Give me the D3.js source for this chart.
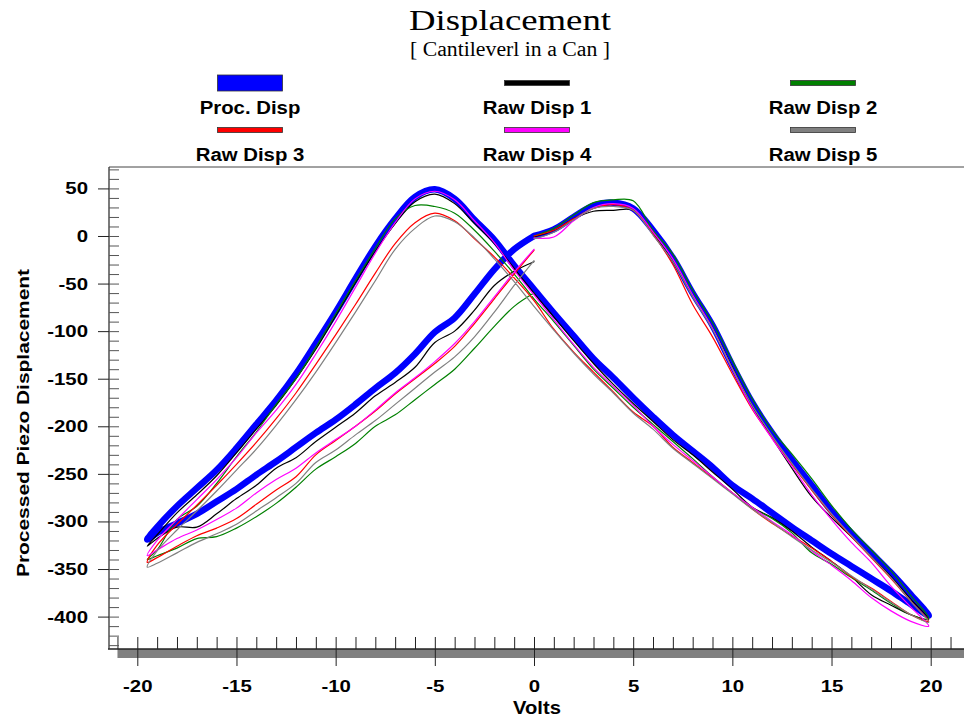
<!DOCTYPE html>
<html>
<head>
<meta charset="utf-8">
<script src="https://cdn.jsdelivr.net/npm/d3@7"></script>
<style>
  body { margin: 0; background: #fff; }
  svg text { font-family: "Liberation Sans", Arial, Helvetica, sans-serif; font-weight: bold; fill: #000; }
  svg text.serif { font-family: "Liberation Serif", "Times New Roman", serif; font-weight: normal; }
</style>
</head>
<body>
<svg id="chart" width="964" height="719"></svg>
<script>

// voltage sweep: 0 -> 20 -> -19.5 -> 0
var volts = [
  0, 1, 2, 3, 4, 5, 6, 7, 8, 9, 10, 11, 12, 13, 14, 15, 16, 17, 18, 19, 19.9,
  19, 18, 17, 16, 15, 14, 13, 12, 11, 10, 9, 8, 7, 6, 5, 4, 3, 2, 1, 0,
  -1, -2, -3, -4, -5, -6, -7, -8, -9, -10, -11, -12, -13, -14, -15, -16, -17, -18, -19, -19.5,
  -19, -18, -17, -16, -15, -14, -13, -12, -11, -10, -9, -8, -7, -6, -5, -4, -3, -2, -1, 0
];

var procDisp = [
  0, 7, 20, 32, 35, 29, 6, -23, -60, -94, -136, -175, -207, -235, -262, -289, -312, -333, -354, -377, -399,
  -387, -373, -360, -347, -334, -320, -306, -291, -276, -262, -243, -226, -209, -190, -170, -149, -129, -105, -81, -56,
  -31, -4, 17, 39, 49, 41, 18, -11, -45, -80, -113, -145, -173, -198, -223, -246, -265, -284, -306, -319,
  -312, -302, -292, -279, -266, -251, -237, -222, -207, -193, -177, -160, -144, -124, -101, -86, -61, -35, -14, 0
];

var rawDisp1 = [
  -1, 6, 18, 26, 27, 27, 3, -27, -63, -97, -138, -178, -212, -244, -274, -296, -316, -337, -358, -382, -403,
  -398, -388, -377, -358, -342, -327, -310, -296, -285, -266, -248, -230, -214, -195, -176, -156, -134, -110, -85, -60,
  -34, -8, 13, 34, 44, 36, 13, -16, -49, -84, -119, -150, -178, -203, -228, -252, -272, -291, -314, -326,
  -318, -306, -306, -292, -276, -262, -244, -233, -216, -201, -186, -168, -154, -138, -112, -100, -78, -52, -37, -27
];

var rawDisp2 = [
  0, 8, 22, 35, 38, 37, 6, -19, -57, -91, -131, -171, -204, -229, -255, -283, -308, -330, -352, -378, -402,
  -398, -386, -372, -359, -345, -333, -312, -297, -286, -270, -253, -234, -216, -198, -180, -160, -140, -115, -90, -66,
  -40, -16, 6, 24, 31, 32, 18, -13, -47, -82, -117, -150, -177, -206, -232, -260, -284, -298, -330, -340,
  -336, -328, -318, -316, -307, -295, -281, -264, -245, -232, -218, -200, -188, -172, -156, -140, -118, -95, -74, -60
];

var rawDisp3 = [
  0, 6, 18, 29, 33, 27, 2, -30, -72, -106, -145, -182, -212, -240, -267, -293, -316, -338, -360, -384, -405,
  -398, -384, -370, -358, -342, -328, -315, -302, -287, -270, -254, -238, -222, -200, -185, -164, -143, -122, -98, -68,
  -44, -22, -3, 16, 24, 14, -8, -39, -72, -104, -135, -165, -192, -217, -240, -262, -283, -303, -325, -343,
  -338, -326, -315, -307, -297, -282, -267, -253, -230, -215, -200, -184, -166, -150, -134, -116, -92, -66, -40, -15
];

var rawDisp4 = [
  -2, -1, 16, 30, 34, 29, 4, -24, -62, -97, -140, -181, -213, -242, -272, -298, -322, -343, -368, -390, -410,
  -405, -394, -380, -362, -346, -331, -314, -300, -285, -270, -253, -236, -219, -200, -178, -158, -138, -114, -88, -62,
  -36, -7, 16, 38, 47, 39, 14, -18, -54, -90, -124, -156, -183, -207, -233, -256, -277, -298, -320, -336,
  -330, -318, -309, -298, -286, -270, -256, -244, -228, -214, -200, -183, -165, -149, -132, -113, -90, -64, -38, -14
];

var rawDisp5 = [
  -3, 4, 17, 29, 31, 27, 1, -27, -64, -98, -139, -178, -210, -239, -266, -292, -315, -337, -359, -384, -406,
  -398, -385, -371, -357, -343, -330, -316, -301, -287, -271, -255, -239, -223, -203, -186, -165, -145, -123, -99, -74,
  -48, -24, -2, 15, 21, 8, -14, -47, -80, -112, -143, -172, -199, -224, -246, -268, -289, -309, -331, -348,
  -344, -333, -322, -313, -303, -289, -275, -260, -238, -225, -209, -194, -177, -160, -143, -127, -106, -80, -52, -26
];

var seriesNames = ['Proc. Disp', 'Raw Disp 1', 'Raw Disp 2', 'Raw Disp 3', 'Raw Disp 4', 'Raw Disp 5'];
var seriesColours = ['#0000ff', '#000000', '#008000', '#ff0000', '#ff00ff', '#808080'];
var xTickValues = [-20, -15, -10, -5, 0, 5, 10, 15, 20];
var yTickValues = [50, 0, -50, -100, -150, -200, -250, -300, -350, -400];

var svg = d3.select('#chart');

var xScale = d3.scaleLinear().domain([-20, 20]).range([137.3, 930.7]);
var yScale = d3.scaleLinear().domain([-433, 72.5]).range([648, 167]);

function stretch(sel, k) {
  sel.each(function () {
    var w = this.getComputedTextLength();
    d3.select(this).attr('textLength', w * k).attr('lengthAdjust', 'spacingAndGlyphs');
  });
}

// title
svg.append('text').attr('class', 'serif')
  .attr('x', 510).attr('y', 30)
  .attr('text-anchor', 'middle')
  .style('font-size', '30px')
  .attr('textLength', 202).attr('lengthAdjust', 'spacingAndGlyphs')
  .text('Displacement');

svg.append('text').attr('class', 'serif')
  .attr('x', 510).attr('y', 56)
  .attr('text-anchor', 'middle')
  .style('font-size', '20px')
  .attr('textLength', 200).attr('lengthAdjust', 'spacingAndGlyphs')
  .text('[ Cantileverl in a Can ]');

// legend
var legendCols = [250, 537, 823];
var legend = svg.append('g').selectAll('g')
  .data(seriesNames)
  .enter().append('g')
  .attr('transform', function (d, i) {
    return 'translate(' + legendCols[i % 3] + ',' + (i < 3 ? 83 : 130) + ')';
  });

legend.append('rect')
  .attr('x', -32.5)
  .attr('y', function (d, i) { return i === 0 ? -8 : -2.5; })
  .attr('width', 65)
  .attr('height', function (d, i) { return i === 0 ? 16 : 5; })
  .style('fill', function (d, i) { return seriesColours[i]; })
  .style('stroke', '#333')
  .style('stroke-width', 0.8);

legend.append('text')
  .attr('y', 31)
  .attr('text-anchor', 'middle')
  .style('font-size', '18px')
  .text(function (d) { return d; })
  .call(stretch, 1.13);

// x axis band
svg.append('rect')
  .attr('x', xScale(-21)).attr('y', 649)
  .attr('width', 964 - xScale(-21)).attr('height', 9)
  .style('fill', '#808080');

svg.append('line')
  .attr('x1', 108).attr('x2', 964).attr('y1', 649).attr('y2', 649)
  .style('stroke', '#222').style('stroke-width', 1.3);

svg.append('line')
  .attr('x1', 109).attr('x2', 964).attr('y1', 167).attr('y2', 167)
  .style('stroke', '#444').style('stroke-width', 1);

svg.append('line')
  .attr('x1', 109).attr('x2', 109).attr('y1', 167).attr('y2', 649)
  .style('stroke', '#333').style('stroke-width', 1.3);

// x ticks
var xMinor = svg.append('g').attr('transform', 'translate(0,649)')
  .call(d3.axisTop(xScale).tickValues(d3.range(-21, 22, 1)).tickSize(12).tickFormat(''));

var xMajor = svg.append('g').attr('transform', 'translate(0,649)')
  .call(d3.axisBottom(xScale).tickValues(xTickValues).tickSize(17).tickPadding(14)
    .tickFormat(function (d) { return String(d); }));

xMajor.selectAll('text').style('font-size', '17px').call(stretch, 1.2);

// y ticks
var yMinor = svg.append('g').attr('transform', 'translate(109,0)')
  .call(d3.axisRight(yScale).tickValues(d3.range(-430, 80, 10)).tickSize(10).tickFormat(''));

var yMajor = svg.append('g').attr('transform', 'translate(109,0)')
  .call(d3.axisLeft(yScale).tickValues(yTickValues).tickSize(11).tickPadding(10)
    .tickFormat(function (d) { return String(d); }));

yMajor.selectAll('text').style('font-size', '17px').call(stretch, 1.2);

[xMinor, xMajor, yMinor, yMajor].forEach(function (g) {
  g.select('.domain').remove();
  g.selectAll('line').style('stroke', '#222');
  g.attr('font-family', null).attr('font-size', null);
});
yMinor.selectAll('line').style('stroke', '#555');

// axis titles
svg.append('text')
  .attr('x', 537).attr('y', 714)
  .attr('text-anchor', 'middle')
  .style('font-size', '18px')
  .text('Volts')
  .call(stretch, 1.12);

svg.append('text')
  .attr('transform', 'translate(29,423) rotate(-90)')
  .attr('text-anchor', 'middle')
  .style('font-size', '17px')
  .attr('textLength', 308).attr('lengthAdjust', 'spacingAndGlyphs')
  .text('Processed Piezo Displacement');

// curves
var allSeries = [procDisp, rawDisp1, rawDisp2, rawDisp3, rawDisp4, rawDisp5];

var line = d3.line()
  .x(function (d) { return xScale(d[0]); })
  .y(function (d) { return yScale(d[1]); })
  .curve(d3.curveCatmullRom.alpha(0.5));

svg.append('g').selectAll('path')
  .data(allSeries)
  .enter().append('path')
  .attr('d', function (d) { return line(d3.zip(volts, d)); })
  .style('fill', 'none')
  .style('stroke', function (d, i) { return seriesColours[i]; })
  .style('stroke-width', function (d, i) { return i === 0 ? 6.5 : 1.2; })
  .style('stroke-linejoin', 'round')
  .style('stroke-linecap', 'round');

</script>
</body>
</html>
